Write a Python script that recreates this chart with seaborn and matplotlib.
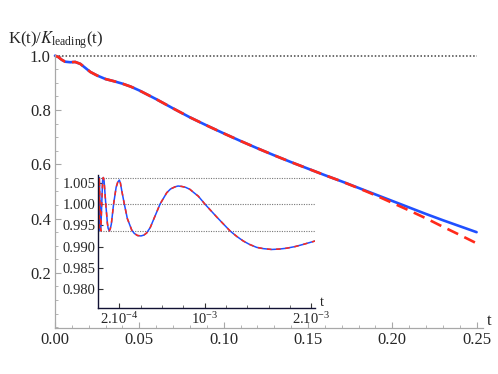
import matplotlib
matplotlib.use("Agg")
import matplotlib.pyplot as plt
from matplotlib.ticker import MultipleLocator, FixedLocator
import seaborn as sns

# main curve
t_main = [0.0, 0.002, 0.004, 0.006, 0.009, 0.012, 0.015, 0.018, 0.021, 0.025,
          0.03, 0.035, 0.04, 0.045, 0.05, 0.06, 0.07, 0.08, 0.09, 0.10,
          0.11, 0.12, 0.13, 0.14, 0.15, 0.16, 0.17, 0.18, 0.19, 0.20,
          0.21, 0.22, 0.23, 0.24, 0.25]
k_exact = [1.0, 0.995, 0.985, 0.978, 0.976, 0.977, 0.970, 0.955, 0.940, 0.927,
           0.914, 0.906, 0.897, 0.886, 0.872, 0.840, 0.806, 0.773, 0.743, 0.714,
           0.686, 0.659, 0.633, 0.608, 0.584, 0.560, 0.537, 0.513, 0.489, 0.465,
           0.441, 0.417, 0.394, 0.372, 0.350]
k_approx = [1.0, 0.995, 0.985, 0.978, 0.976, 0.977, 0.970, 0.955, 0.940, 0.927,
            0.914, 0.906, 0.897, 0.886, 0.872, 0.840, 0.806, 0.773, 0.743, 0.714,
            0.686, 0.659, 0.633, 0.608, 0.584, 0.560, 0.537, 0.512, 0.486, 0.458,
            0.430, 0.401, 0.370, 0.340, 0.309]

# inset, t in units of 1e-3
t_inset = [0.0, 0.003, 0.0066, 0.0125, 0.019, 0.026, 0.035, 0.043, 0.05, 0.057,
           0.073, 0.088, 0.095, 0.106, 0.115, 0.125, 0.146, 0.17, 0.185, 0.2,
           0.21, 0.222, 0.247, 0.275, 0.316, 0.34, 0.37, 0.403, 0.43, 0.456,
           0.49, 0.518, 0.581, 0.644, 0.68, 0.722, 0.75, 0.784, 0.82, 0.862,
           0.90, 0.94, 0.97, 1.003, 1.112, 1.237, 1.30, 1.362, 1.42, 1.487,
           1.55, 1.628, 1.70, 1.768, 1.85, 1.924, 2.034]
k_inset = [1.000, 1.0063, 0.9937, 1.0063, 1.000, 0.9937, 1.000, 1.0055, 1.0063, 1.0055,
           1.000, 0.9955, 0.9943, 0.9937, 0.9942, 0.9953, 1.000, 1.0040, 1.0052, 1.0057,
           1.0050, 1.0033, 1.000, 0.9966, 0.9939, 0.9931, 0.9926, 0.9925, 0.9927, 0.9932,
           0.9945, 0.9962, 1.000, 1.0027, 1.0036, 1.0041, 1.0043, 1.0042, 1.0040, 1.0035,
           1.0027, 1.0019, 1.0010, 1.000, 0.9970, 0.9937, 0.9924, 0.9913, 0.9905, 0.9898,
           0.9895, 0.9893, 0.9894, 0.9896, 0.9900, 0.9905, 0.9913]
inset_guides = [1.0063, 1.0, 0.9937]
inset_yticks = [0.980, 0.985, 0.990, 0.995, 1.000, 1.005]
inset_xticks = [0.2, 1.0, 2.0]
inset_xlabels = [r'$\mathregular{2.10^{-4}}$', r'$\mathregular{10^{-3}}$', r'$\mathregular{2.10^{-3}}$']

BLUE = '#2050ff'
RED = '#ff2a1a'
AX_GRAY = '#a8a8a8'

sns.set_style('ticks')
plt.rcParams['font.family'] = ['Liberation Serif', 'DejaVu Serif']
plt.rcParams['mathtext.fontset'] = 'stix'

fig = plt.figure(figsize=(4.98, 3.74), dpi=100)
ax = fig.add_axes([55 / 498, 46 / 374, 428 / 498, 273.1 / 374])

ax.plot([0, 0.25], [1, 1], ls=(0, (1, 1.3)), color='#444444', lw=1.1)
sns.lineplot(x=t_main, y=k_exact, ax=ax, color=BLUE, lw=1.9, clip_on=False)
sns.lineplot(x=t_main, y=k_approx, ax=ax, color=RED, lw=1.9, clip_on=False)
ax.lines[-1].set_dashes([4.5, 2.6])

ax.set_xlim(0, 0.2538)
ax.set_ylim(-0.003, 1.003)
ax.xaxis.set_major_locator(MultipleLocator(0.05))
ax.xaxis.set_minor_locator(MultipleLocator(0.01))
ax.yaxis.set_major_locator(FixedLocator([0.2, 0.4, 0.6, 0.8, 1.0]))
ax.yaxis.set_minor_locator(MultipleLocator(0.05))
ax.xaxis.set_major_formatter(plt.FuncFormatter(lambda v, p: f'{v:.2f}'))
ax.yaxis.set_major_formatter(plt.FuncFormatter(lambda v, p: f'{v:.1f}'))
sns.despine(ax=ax)
for s in ['left', 'bottom']:
    ax.spines[s].set_color(AX_GRAY)
    ax.spines[s].set_linewidth(0.9)
ax.tick_params(which='major', direction='in', length=4, width=0.8, color=AX_GRAY,
               labelsize=12, pad=3)
ax.tick_params(which='minor', direction='in', length=2.2, width=0.6, color=AX_GRAY)
ax.set_xlabel('')
ax.set_ylabel('')

fig.text(8 / 498, 1 - 40 / 374, r'K(t)/$K_{\mathregular{leading}}$(t)', fontsize=12,
         ha='left', va='center')
fig.text(487 / 498, 1 - 321 / 374, 't', fontsize=12, ha='left', va='center')

# inset
ins = fig.add_axes([98 / 498, 65.7 / 374, 217 / 498, 133.3 / 374])
ins.patch.set_alpha(0)
for g in inset_guides:
    ins.plot([0, 2.034], [g, g], ls=(0, (1, 1.2)), color='#777777', lw=0.8)
sns.lineplot(x=t_inset, y=k_inset, ax=ins, color=BLUE, lw=1.1)
sns.lineplot(x=t_inset, y=k_inset, ax=ins, color=RED, lw=1.1)
ins.lines[-1].set_dashes([3, 3])
ins.set_xlim(0, 2.034)
ins.set_ylim(0.9754, 1.0069)
ins.set_yticks(inset_yticks)
ins.set_yticklabels([f'{v:.3f}' for v in inset_yticks])
ins.set_xticks(inset_xticks)
ins.set_xticklabels(inset_xlabels)
ins.xaxis.set_minor_locator(MultipleLocator(0.2))
sns.despine(ax=ins)
for s in ['left', 'bottom']:
    ins.spines[s].set_color('#111133')
    ins.spines[s].set_linewidth(1.0)
ins.tick_params(which='major', direction='in', length=3.5, width=0.8, color='#333333',
                labelsize=10.5, pad=2)
ins.tick_params(which='minor', direction='in', length=2, width=0.6, color='#555555')
ins.set_xlabel('')
ins.set_ylabel('')
fig.text(320 / 498, 1 - 302 / 374, 't', fontsize=10.5, ha='left', va='center')

fig.savefig('out.png', dpi=100)
